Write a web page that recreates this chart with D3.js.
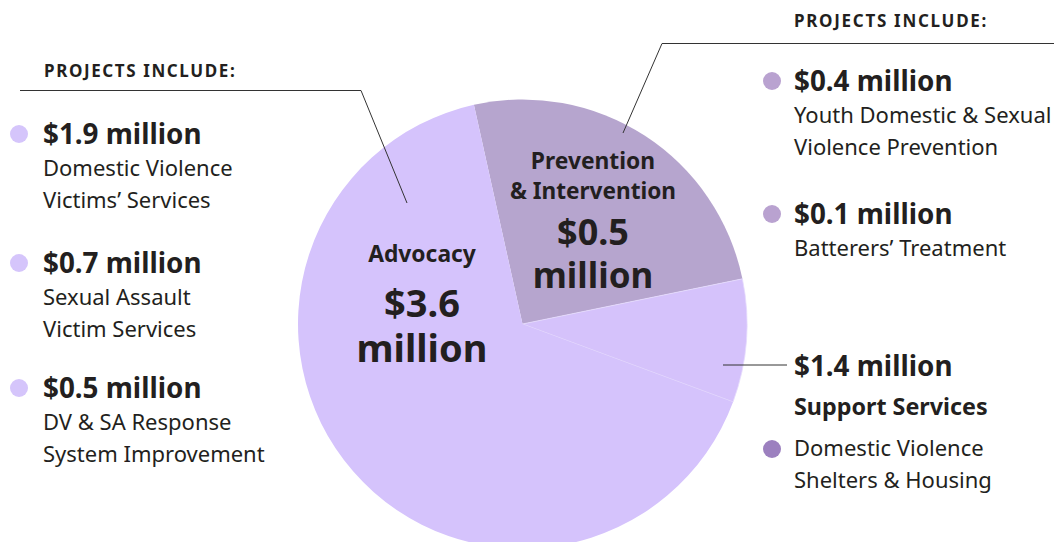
<!DOCTYPE html>
<html>
<head>
<meta charset="utf-8">
<script src="https://cdn.jsdelivr.net/npm/d3@7"></script>
<style>
  body { margin: 0; background: #fff; }
  svg { display: block; font-family: "Noto Sans", "Open Sans", sans-serif; }
  text { fill: #231f20; }
</style>
</head>
<body>
<div id="chart"></div>
<script>
// slices: names and visual shares (degrees of arc)
var sliceNames = ["Prevention", "Support", "Advocacy"];
var sliceShares = [90.9, 31.9, 237.2];
var sliceColors = ["#b6a5ce", "#d5c2fb", "#d5c3fc"];

var advocacyItems = ["$1.9 million", "$0.7 million", "$0.5 million"];
var advocacyDesc = [
  ["Domestic Violence", "Victims\u2019 Services"],
  ["Sexual Assault", "Victim Services"],
  ["DV & SA Response", "System Improvement"]
];
var preventionItems = ["$0.4 million", "$0.1 million"];
var preventionDesc = [
  ["Youth Domestic & Sexual", "Violence Prevention"],
  ["Batterers\u2019 Treatment"]
];
var supportItems = ["$1.4 million"];
var supportDesc = [["Domestic Violence", "Shelters & Housing"]];

var svgWidth = 1054;
var svgHeight = 542;
var cx = 522.5, cy = 324, radius = 224.5;

var svg = d3.select("#chart")
  .append("svg")
  .attr("width", svgWidth)
  .attr("height", svgHeight);

// pie
var pie = d3.pie()
  .sort(null)
  .value(d => d)
  .startAngle(-12.5 * Math.PI / 180)
  .endAngle((360 - 12.5) * Math.PI / 180);

var arc = d3.arc().innerRadius(0).outerRadius(radius);

var pieGroup = svg.append("g")
  .attr("transform", `translate(${cx}, ${cy})`);

pieGroup.selectAll("path")
  .data(pie(sliceShares))
  .enter()
  .append("path")
  .attr("d", arc)
  .attr("fill", (d, i) => sliceColors[i])
  .attr("stroke", (d, i) => i === 1 ? "#e6dcfd" : "none")
  .attr("stroke-width", 0.8);

// labels inside the pie (one text element per label, lines as tspans)
function centerLabel(x, lines) {
  var t = svg.append("text")
    .attr("text-anchor", "middle")
    .attr("font-weight", "bold");
  lines.forEach(function (l) {
    t.append("tspan")
      .attr("x", x)
      .attr("y", l.y)
      .attr("font-size", l.size)
      .text(l.text);
  });
}
centerLabel(422, [
  { text: "Advocacy", y: 262, size: 22.8 },
  { text: "$3.6", y: 317, size: 38 },
  { text: "million", y: 362, size: 38 }
]);
centerLabel(593, [
  { text: "Prevention", y: 169, size: 22.8 },
  { text: "& Intervention", y: 199, size: 22.6 },
  { text: "$0.5", y: 245, size: 36 },
  { text: "million", y: 288, size: 35 }
]);

// leader lines
var lineColor = "#333";
svg.append("polyline")
  .attr("points", "20,90.5 361,90.5 407,203")
  .attr("fill", "none").attr("stroke", lineColor).attr("stroke-width", 1);
svg.append("polyline")
  .attr("points", "1054,43.5 662,43.5 623,133")
  .attr("fill", "none").attr("stroke", lineColor).attr("stroke-width", 1);
svg.append("line")
  .attr("x1", 723).attr("x2", 787).attr("y1", 365).attr("y2", 365)
  .attr("stroke", lineColor).attr("stroke-width", 1);

// headers
svg.append("text")
  .attr("x", 44).attr("y", 77)
  .attr("font-size", 17).attr("font-weight", "bold").attr("letter-spacing", 1.6)
  .text("PROJECTS INCLUDE:");
svg.append("text")
  .attr("x", 794).attr("y", 27)
  .attr("font-size", 17).attr("font-weight", "bold").attr("letter-spacing", 1.7)
  .text("PROJECTS INCLUDE:");

// list blocks
function listBlock(x, dotDx, tops, amounts, descs, dotColor) {
  var g = svg.append("g");
  var items = g.selectAll("g.item")
    .data(amounts)
    .enter()
    .append("g")
    .attr("class", "item")
    .attr("transform", (d, i) => `translate(${x}, ${tops[i]})`);
  items.append("circle")
    .attr("cx", dotDx).attr("cy", -10).attr("r", 9)
    .attr("fill", dotColor);
  items.append("text")
    .attr("font-size", 27.8).attr("font-weight", "bold")
    .text(d => d);
  items.each(function (d, i) {
    d3.select(this).selectAll("text.desc")
      .data(descs[i])
      .enter()
      .append("text")
      .attr("class", "desc")
      .attr("y", (t, j) => 32 + j * 31.5)
      .attr("font-size", 22)
      .text(t => t);
  });
}
listBlock(43, -24, [144, 273, 398], advocacyItems, advocacyDesc, "#d5c5fb");
listBlock(794, -22, [91, 224], preventionItems, preventionDesc, "#b9a2d0");

// support services block
svg.append("text")
  .attr("x", 794).attr("y", 376)
  .attr("font-size", 27.8).attr("font-weight", "bold")
  .text(supportItems[0]);
svg.append("text")
  .attr("x", 794).attr("y", 415)
  .attr("font-size", 23.3).attr("font-weight", "bold")
  .text("Support Services");
svg.append("circle")
  .attr("cx", 772).attr("cy", 449).attr("r", 9)
  .attr("fill", "#9c80bf");
svg.selectAll("text.sdesc")
  .data(supportDesc[0])
  .enter()
  .append("text")
  .attr("class", "sdesc")
  .attr("x", 794)
  .attr("y", (t, j) => 456 + j * 31.5)
  .attr("font-size", 22)
  .text(t => t);
</script>
</body>
</html>
